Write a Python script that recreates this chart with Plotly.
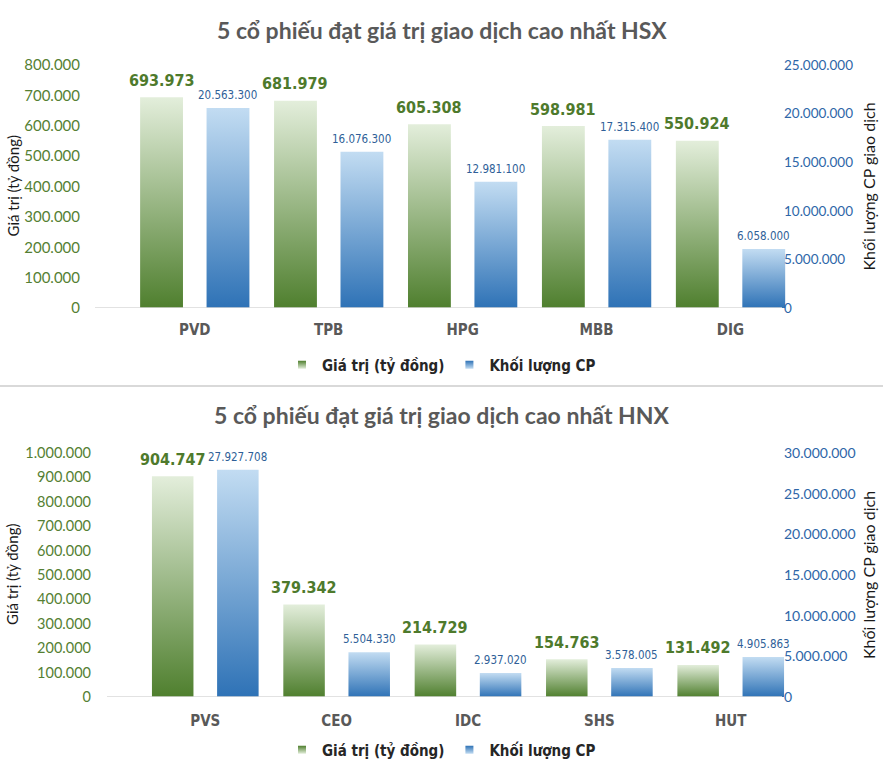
import plotly.graph_objects as go

# HSX - top 5 by trading value
hsx_codes = ["PVD", "TPB", "HPG", "MBB", "DIG"]
hsx_value = [693973, 681979, 605308, 598981, 550924]
hsx_volume = [20563300, 16076300, 12981100, 17315400, 6058000]

# HNX - top 5 by trading value
hnx_codes = ["PVS", "CEO", "IDC", "SHS", "HUT"]
hnx_value = [904747, 379342, 214729, 154763, 131492]
hnx_volume = [27927708, 5504330, 2937020, 3578005, 4905863]

W, H = 883, 776
GREEN_DARK, GREEN_LIGHT = "#4f7f2e", "#e3eedb"
BLUE_DARK, BLUE_LIGHT = "#2e72b6", "#c2dcf2"
NARROW = "DejaVu Sans Condensed, Liberation Sans Narrow, Roboto, sans-serif"
BODY = "Lato, Open Sans, sans-serif"


def fmt(v):
    return f"{v:,}".replace(",", ".")


def bar(i, v, offset, width, xa, ya, dark, light):
    x0 = i + offset - width / 2
    x1 = x0 + width
    return go.Scatter(
        x=[x0, x1, x1, x0, x0], y=[0, 0, v, v, 0],
        fill="toself", mode="lines", line=dict(width=0),
        fillgradient=dict(type="vertical", colorscale=[[0, dark], [1, light]]),
        xaxis=xa, yaxis=ya, showlegend=False, hoverinfo="skip",
    )


fig = go.Figure()
annotations = []


def add_chart(codes, values, volumes, xa, ya, ya2, width):
    for i, (v, q) in enumerate(zip(values, volumes)):
        fig.add_trace(bar(i, v, -0.248, width, xa, ya, GREEN_DARK, GREEN_LIGHT))
        fig.add_trace(bar(i, q, 0.248, width, xa, ya2, BLUE_DARK, BLUE_LIGHT))
        annotations.append(dict(
            x=i - 0.248, y=v, xref=xa, yref=ya, text=fmt(v), showarrow=False,
            yanchor="middle", yshift=17,
            font=dict(family=NARROW, size=16, color="#4e7a2c", weight="bold"),
        ))
        annotations.append(dict(
            x=i + 0.248, y=q, xref=xa, yref=ya2, text=fmt(q), showarrow=False,
            yanchor="middle", yshift=13,
            font=dict(family=NARROW, size=11.5, color="#2f5f98"),
        ))


add_chart(hsx_codes, hsx_value, hsx_volume, "x", "y", "y2", 0.32)
add_chart(hnx_codes, hnx_value, hnx_volume, "x2", "y3", "y4", 0.316)

# legend entries
for leg in ["legend", "legend2"]:
    xa, ya = ("x", "y") if leg == "legend" else ("x2", "y3")
    fig.add_trace(go.Scatter(
        x=[None], y=[None], mode="markers", name="Giá trị (tỷ đồng)", legend=leg,
        marker=dict(symbol="square", size=8, color=GREEN_DARK,
                    gradient=dict(type="vertical", color=GREEN_LIGHT)),
        xaxis=xa, yaxis=ya,
    ))
    fig.add_trace(go.Scatter(
        x=[None], y=[None], mode="markers", name="Khối lượng CP", legend=leg,
        marker=dict(symbol="square", size=8, color=BLUE_DARK,
                    gradient=dict(type="vertical", color=BLUE_LIGHT)),
        xaxis=xa, yaxis=ya,
    ))

xcommon = dict(range=[-0.5, 4.5], tickvals=list(range(5)), showgrid=False,
               zeroline=False, showline=False, ticks="", automargin=False,
               tickfont=dict(family=NARROW, size=15, color="#595959", weight="bold"))
ycommon = dict(showgrid=False, zeroline=False, showline=False, ticks="",
               tickformat=",.0f", automargin=False)

top_dom = [1 - 308 / H, 1 - 65 / H]
bot_dom = [1 - 697 / H, 1 - 453 / H]
legend_font = dict(family=NARROW, size=15, color="#262626", weight="bold")

fig.update_layout(
    template="none",
    width=W, height=H, margin=dict(l=0, r=0, t=0, b=0, autoexpand=False),
    paper_bgcolor="white", plot_bgcolor="rgba(0,0,0,0)",
    separators=",.", font=dict(family=BODY, color="#404040"),
    xaxis=dict(xcommon, domain=[127.8 / W, 797.5 / W], ticktext=hsx_codes, anchor="y",
               ticklabelstandoff=11),
    xaxis2=dict(xcommon, domain=[139.6 / W, 796.4 / W], ticktext=hnx_codes, anchor="y3",
                ticklabelstandoff=13),
    yaxis=dict(ycommon, domain=top_dom, range=[0, 800000], dtick=100000,
               anchor="free", position=80 / W, side="left",
               tickfont=dict(family=BODY, size=15, color="#557f33")),
    yaxis2=dict(ycommon, domain=top_dom, range=[0, 25000000], dtick=5000000,
                overlaying="y", anchor="free", position=783 / W, side="right",
                tickfont=dict(family=BODY, size=13.5, color="#2e66a8")),
    yaxis3=dict(ycommon, domain=bot_dom, range=[0, 1000000], dtick=100000,
                anchor="free", position=91 / W, side="left",
                tickfont=dict(family=BODY, size=14.5, color="#557f33")),
    yaxis4=dict(ycommon, domain=bot_dom, range=[0, 30000000], dtick=5000000,
                overlaying="y3", anchor="free", position=783 / W, side="right",
                tickfont=dict(family=BODY, size=14, color="#2e66a8")),
    legend=dict(orientation="h", x=0.5, xanchor="center", y=1 - 365 / H, yanchor="middle",
                font=legend_font, itemwidth=30, bgcolor="rgba(0,0,0,0)"),
    legend2=dict(orientation="h", x=0.5, xanchor="center", y=1 - 750 / H, yanchor="middle",
                 font=legend_font, itemwidth=30, bgcolor="rgba(0,0,0,0)"),
    shapes=[
        dict(type="line", xref="paper", yref="y", x0=95 / W, x1=782 / W, y0=0, y1=0,
             line=dict(color="#d9d9d9", width=1.5)),
        dict(type="line", xref="paper", yref="y3", x0=107 / W, x1=782 / W, y0=0, y1=0,
             line=dict(color="#d9d9d9", width=1.5)),
        dict(type="line", xref="paper", yref="paper", x0=0, x1=1, y0=1 - 386 / H, y1=1 - 386 / H,
             line=dict(color="#d9d9d9", width=2)),
    ],
)

title_font = dict(family=BODY, size=23, color="#595959", weight="bold")
axis_font = dict(family=BODY, size=15, color="#1a1a1a")
annotations += [
    dict(text="5 cổ phiếu đạt giá trị giao dịch cao nhất HSX", x=0.5, y=1 - 30 / H,
         xref="paper", yref="paper", showarrow=False, font=title_font,
         xanchor="center", yanchor="middle"),
    dict(text="5 cổ phiếu đạt giá trị giao dịch cao nhất HNX", x=0.5, y=1 - 415 / H,
         xref="paper", yref="paper", showarrow=False, font=title_font,
         xanchor="center", yanchor="middle"),
]
for dom in (top_dom, bot_dom):
    annotations.append(dict(
        text="Giá trị (tỷ đồng)", x=12 / W, y=sum(dom) / 2, xref="paper", yref="paper",
        textangle=-90, showarrow=False, font=axis_font, xanchor="center", yanchor="middle"))
    annotations.append(dict(
        text="Khối lượng CP giao dịch", x=868 / W, y=sum(dom) / 2, xref="paper", yref="paper",
        textangle=-90, showarrow=False, font=dict(axis_font, size=16),
        xanchor="center", yanchor="middle"))
fig.update_layout(annotations=annotations)

# drop the default page margin so the figure sits at the window's top-left corner
fig.write_html("out.html", config={"displayModeBar": False},
               post_script="document.body.style.margin = '0';")
